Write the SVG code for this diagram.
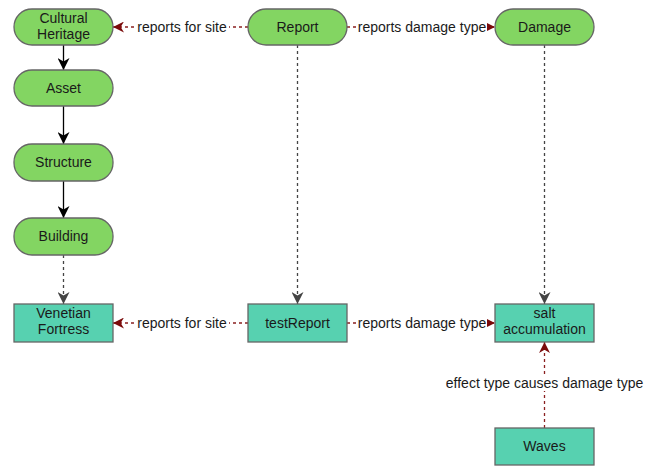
<svg xmlns="http://www.w3.org/2000/svg" width="659" height="466" viewBox="0 0 659 466">
  <style>
    text { font-family: "Liberation Sans", Arial, sans-serif; font-size: 14px; fill: #1a1a1a; text-anchor: middle; }
    .cls { fill: #83d562; stroke: #666666; stroke-width: 1.3; }
    .ind { fill: #57d1b0; stroke: #666666; stroke-width: 1.3; }
    .sub { fill: none; stroke: #000000; stroke-width: 1.3; }
    .inst { fill: none; stroke: #444444; stroke-width: 1.3; stroke-dasharray: 3 3; }
    .rel { fill: none; stroke: #8a2020; stroke-width: 1.3; stroke-dasharray: 3 3; }
    .lbl { fill: #ffffff; }
  </style>
  <defs>
    <marker id="arrBlack" markerWidth="12" markerHeight="12" refX="10" refY="5" orient="auto" markerUnits="userSpaceOnUse" viewBox="0 0 10 10">
      <path d="M0,0 L10,5 L0,10 L3,5 Z" fill="#000000"/>
    </marker>
    <marker id="arrGray" markerWidth="12" markerHeight="12" refX="10" refY="5" orient="auto" markerUnits="userSpaceOnUse" viewBox="0 0 10 10">
      <path d="M0,0 L10,5 L0,10 L3,5 Z" fill="#444444"/>
    </marker>
    <marker id="arrRed" markerWidth="11" markerHeight="11" refX="10" refY="5" orient="auto" markerUnits="userSpaceOnUse" viewBox="0 0 10 10">
      <path d="M0,0 L10,5 L0,10 L3,5 Z" fill="#7a0a0a"/>
    </marker>
  </defs>

  <rect width="659" height="466" fill="#ffffff"/>

  <g id="connectors">
    <!-- subclass chain -->
    <line class="sub" x1="63.5" y1="45" x2="63.5" y2="70" marker-end="url(#arrBlack)"/>
    <line class="sub" x1="63.5" y1="106" x2="63.5" y2="144" marker-end="url(#arrBlack)"/>
    <line class="sub" x1="63.5" y1="181" x2="63.5" y2="218" marker-end="url(#arrBlack)"/>
    <!-- instance of -->
    <line class="inst" x1="63.5" y1="255" x2="63.5" y2="304" marker-end="url(#arrGray)"/>
    <line class="inst" x1="297.5" y1="45" x2="297.5" y2="304" marker-end="url(#arrGray)"/>
    <line class="inst" x1="544.5" y1="45" x2="544.5" y2="304" marker-end="url(#arrGray)"/>
    <!-- relations -->
    <line class="rel" x1="248" y1="27" x2="113" y2="27" marker-end="url(#arrRed)"/>
    <rect class="lbl" x="134" y="18" width="95" height="17"/>
    <text x="182" y="32">reports for site</text>

    <line class="rel" x1="347" y1="27" x2="495" y2="27" marker-end="url(#arrRed)"/>
    <rect class="lbl" x="357" y="18" width="130" height="17"/>
    <text x="422" y="32">reports damage type</text>

    <line class="rel" x1="248" y1="323" x2="113" y2="323" marker-end="url(#arrRed)"/>
    <rect class="lbl" x="134" y="314" width="95" height="17"/>
    <text x="182" y="328">reports for site</text>

    <line class="rel" x1="347" y1="323" x2="495" y2="323" marker-end="url(#arrRed)"/>
    <rect class="lbl" x="357" y="314" width="130" height="17"/>
    <text x="422" y="328">reports damage type</text>

    <line class="rel" x1="544.5" y1="428" x2="544.5" y2="342" marker-end="url(#arrRed)"/>
    <rect class="lbl" x="444" y="374" width="201" height="17"/>
    <text x="544.5" y="388">effect type causes damage type</text>
  </g>

  <g id="cultural-heritage">
    <rect class="cls" x="14" y="9" width="99" height="36" rx="18"/>
    <text x="63.5" y="23">Cultural</text>
    <text x="63.5" y="39">Heritage</text>
  </g>
  <g id="asset">
    <rect class="cls" x="14" y="70" width="99" height="36" rx="18"/>
    <text x="63.5" y="93">Asset</text>
  </g>
  <g id="structure">
    <rect class="cls" x="14" y="144" width="99" height="37" rx="18"/>
    <text x="63.5" y="167">Structure</text>
  </g>
  <g id="building">
    <rect class="cls" x="14" y="218" width="99" height="37" rx="18"/>
    <text x="63.5" y="241">Building</text>
  </g>
  <g id="report">
    <rect class="cls" x="248" y="9" width="99" height="36" rx="18"/>
    <text x="297.5" y="32">Report</text>
  </g>
  <g id="damage">
    <rect class="cls" x="495" y="9" width="99" height="36" rx="18"/>
    <text x="544.5" y="32">Damage</text>
  </g>
  <g id="venetian-fortress">
    <rect class="ind" x="14" y="304" width="99" height="38"/>
    <text x="63.5" y="318">Venetian</text>
    <text x="63.5" y="334">Fortress</text>
  </g>
  <g id="test-report">
    <rect class="ind" x="248" y="304" width="99" height="38"/>
    <text x="297.5" y="328">testReport</text>
  </g>
  <g id="salt-accumulation">
    <rect class="ind" x="495" y="304" width="99" height="38"/>
    <text x="544.5" y="318">salt</text>
    <text x="544.5" y="334">accumulation</text>
  </g>
  <g id="waves">
    <rect class="ind" x="495" y="428" width="99" height="37"/>
    <text x="544.5" y="451">Waves</text>
  </g>
</svg>
